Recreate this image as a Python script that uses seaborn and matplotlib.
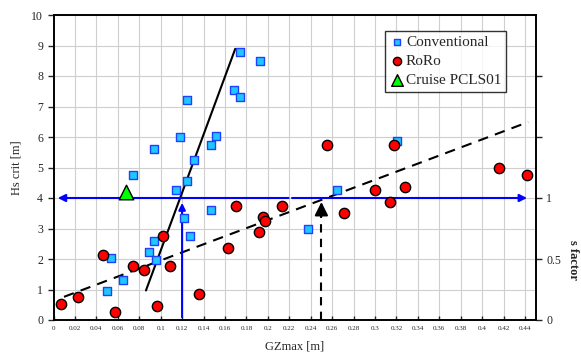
import matplotlib
matplotlib.use("Agg")
import matplotlib.pyplot as plt
import seaborn as sns
import pandas as pd
import numpy as np

# Data
conv_x = [0.1737, 0.193, 0.168, 0.174, 0.125, 0.118, 0.152, 0.147, 0.094, 0.131, 0.074,
          0.125, 0.114, 0.122, 0.147, 0.127, 0.094, 0.089, 0.0956, 0.054, 0.065, 0.050,
          0.265, 0.2374, 0.321]
conv_y = [8.80, 8.49, 7.55, 7.30, 7.20, 6.00, 6.04, 5.75, 5.60, 5.25, 4.75,
          4.57, 4.25, 3.35, 3.60, 2.75, 2.60, 2.23, 1.96, 2.03, 1.31, 0.96,
          4.25, 3.00, 5.88]
roro_x = [0.2557, 0.3176, 0.4156, 0.4417, 0.300, 0.3276, 0.314, 0.271, 0.213,
          0.0067, 0.023, 0.046, 0.0577, 0.074, 0.084, 0.097, 0.102, 0.109, 0.1357,
          0.163, 0.170, 0.192, 0.1957, 0.197]
roro_y = [5.75, 5.75, 5.00, 4.76, 4.25, 4.37, 3.87, 3.51, 3.75,
          0.51, 0.75, 2.13, 0.26, 1.76, 1.63, 0.46, 2.75, 1.76, 0.85,
          2.37, 3.75, 2.87, 3.38, 3.25]
cruise_x = [0.068]
cruise_y = [4.21]

solid_fit_x = [0.0863, 0.1696]
solid_fit_y = [0.97, 8.89]
dashed_fit_x = [0.0098, 0.443]
dashed_fit_y = [0.76, 6.49]

xticks = [round(0.02 * i, 2) for i in range(23)]
xtick_labels = ["0"] + [("%g" % t) for t in xticks[1:]]
yticks = list(range(11))
s_ticks = [0, 0.5, 1, 1.5, 2]
s_labels = ["0", "0.5", "1", "", ""]

df = pd.DataFrame({
    "GZmax": conv_x + roro_x + cruise_x,
    "Hs": conv_y + roro_y + cruise_y,
    "type": ["Conventional"] * len(conv_x) + ["RoRo"] * len(roro_x) + ["Cruise PCLS01"] * len(cruise_x),
})

sns.set_theme(style="white")
plt.rcParams['font.family'] = ['Liberation Serif', 'DejaVu Serif']

fig = plt.figure(figsize=(5.81, 3.56), dpi=100)
ax = fig.add_axes([53.5 / 581, 1 - 320 / 356, (535.7 - 53.5) / 581, (320 - 15) / 356])

# grid
for t in xticks[1:]:
    ax.axvline(t, color="#cfcfcf", lw=0.8, zorder=0)
for t in yticks[1:]:
    ax.axhline(t, color="#cfcfcf", lw=0.8, zorder=0)

# fit lines
sns.lineplot(x=solid_fit_x, y=solid_fit_y, ax=ax, color="black", lw=1.5, zorder=3)
sns.lineplot(x=dashed_fit_x, y=dashed_fit_y, ax=ax, color="black", lw=1.5, zorder=3,
             linestyle=(0, (5, 3.5)))

# blue arrows
blue = "#0000ff"
ax.annotate("", xy=(0.0014, 4), xytext=(0.222, 4),
            arrowprops=dict(arrowstyle="-|>", color=blue, lw=1.5, mutation_scale=11), zorder=4)
ax.annotate("", xy=(0.4445, 4), xytext=(0.22, 4),
            arrowprops=dict(arrowstyle="-|>", color=blue, lw=1.5, mutation_scale=11), zorder=4)
ax.annotate("", xy=(0.12, 3.93), xytext=(0.12, 0),
            arrowprops=dict(arrowstyle="-|>", color=blue, lw=1.5, mutation_scale=10), zorder=4)
# black dashed arrow
ax.plot([0.25, 0.25], [0, 3.4], color="black", lw=1.5, linestyle=(0, (4, 3)), zorder=4)
ax.annotate("", xy=(0.25, 3.96), xytext=(0.25, 3.3),
            arrowprops=dict(arrowstyle="-|>", color="black", lw=1.5, mutation_scale=20), zorder=4)

palette = {"Conventional": "#1ec8ff", "RoRo": "#ff0000", "Cruise PCLS01": "#00ff00"}
markers = {"Conventional": "s", "RoRo": "o", "Cruise PCLS01": "^"}
edge = {"Conventional": "#2040ff", "RoRo": "black", "Cruise PCLS01": "black"}
sizes = {"Conventional": 30, "RoRo": 55, "Cruise PCLS01": 110}
for name in ["Conventional", "RoRo", "Cruise PCLS01"]:
    sub = df[df["type"] == name]
    sns.scatterplot(data=sub, x="GZmax", y="Hs", ax=ax, color=palette[name],
                    marker=markers[name], s=sizes[name], edgecolor=edge[name],
                    linewidth=1.0, zorder=5, label=name)

ax.set_xlim(0, 0.45)
ax.set_ylim(0, 10)
ax.set_xticks(xticks)
ax.set_xticklabels(xtick_labels, fontsize=5)
ax.set_yticks(yticks)
ax.set_yticklabels([str(t) for t in yticks], fontsize=8.5)
ax.tick_params(axis="x", direction="in", length=3, width=1, pad=4, bottom=True)
ax.tick_params(axis="y", direction="out", length=4, width=1, left=True)
ax.set_xlabel("GZmax [m]", fontsize=9, labelpad=7)
ax.set_ylabel("Hs crit [m]", fontsize=9, labelpad=6)
for sp in ax.spines.values():
    sp.set_color("black")
    sp.set_linewidth(1.2)

ax2 = ax.twinx()
ax2.set_ylim(0, 2.5)
ax2.set_yticks(s_ticks)
ax2.set_yticklabels(s_labels, fontsize=8.5)
ax2.tick_params(axis="y", direction="out", length=4, width=1, right=True)
ax2.set_ylabel("s factor", fontsize=9, rotation=270, fontweight="bold", va="center")
ax2.yaxis.set_label_coords((573 - 53.5) / 482.2, (320 - 260) / 305)
for sp in ax2.spines.values():
    sp.set_color("black")
    sp.set_linewidth(1.2)

leg = ax.legend(loc="upper left", bbox_to_anchor=((385.3 - 53.5) / 482.2, (320 - 30.7) / 305),
                frameon=True, fancybox=False, edgecolor="black", fontsize=11,
                handletextpad=0.15, borderpad=0.3, labelspacing=0.35, markerscale=0.8,
                handlelength=0.9, borderaxespad=0)
leg.get_frame().set_linewidth(1.0)
leg.set_zorder(10)

fig.savefig("out.png", dpi=100)
